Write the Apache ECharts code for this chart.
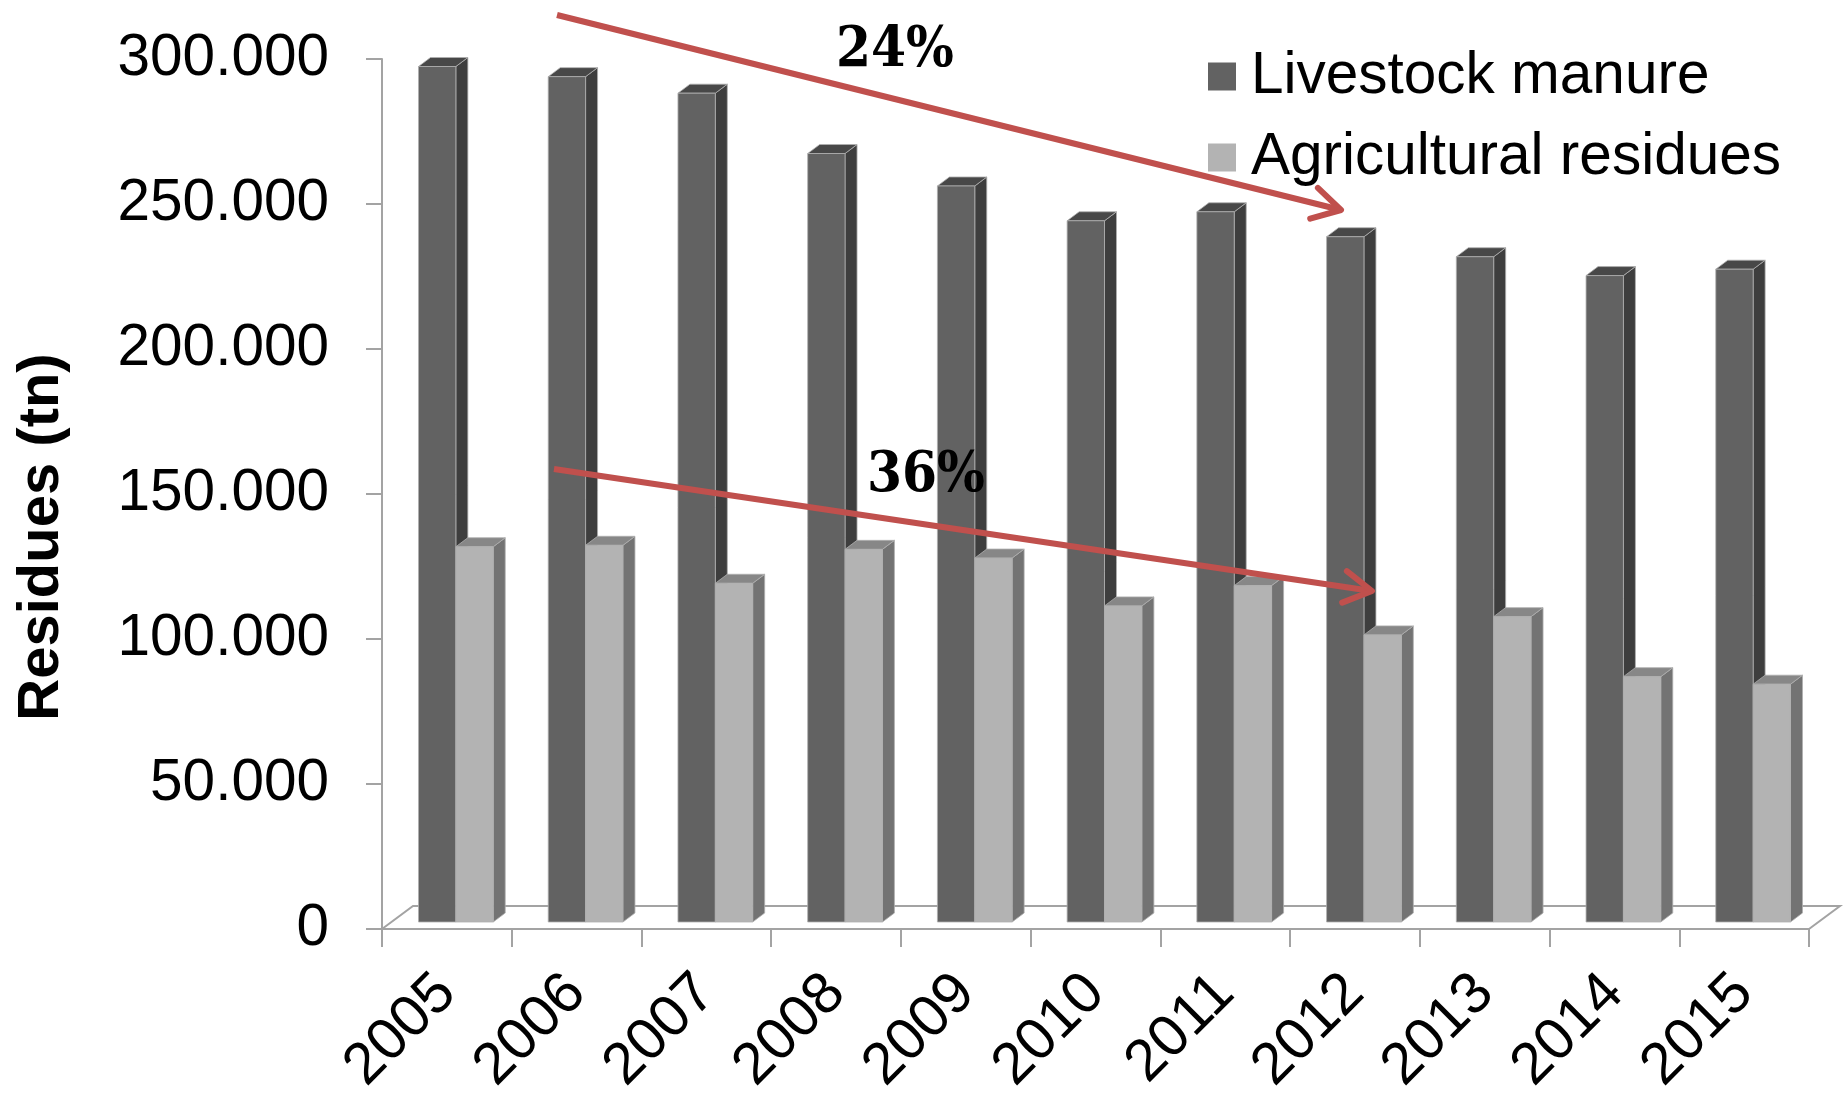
<!DOCTYPE html>
<html>
<head>
<meta charset="utf-8">
<title>Residues 2005-2015</title>
<script src="https://cdn.jsdelivr.net/npm/echarts@6/dist/echarts.min.js"></script>
<style>
  html, body { margin: 0; padding: 0; background: #ffffff; }
  #chart { width: 1848px; height: 1096px; }
</style>
</head>
<body>
<div id="chart"></div>
<script>
// ---- data -------------------------------------------------------------
const years = ['2005', '2006', '2007', '2008', '2009', '2010', '2011', '2012', '2013', '2014', '2015'];
const livestockManure = [295000, 291500, 285800, 265000, 253800, 241800, 244900, 236300, 229400, 222900, 225100];
const agriculturalResidues = [129400, 129900, 116800, 128500, 125500, 109000, 116000, 99000, 105300, 84600, 82000];
const seriesNames = ['Livestock manure', 'Agricultural residues'];
const yTicks = { min: 0, max: 300000, step: 50000 };
const trendLabels = ['24%', '36%'];

// ---- pseudo-3D geometry (pixels) ---------------------------------------
const FLOOR_DX = 31, FLOOR_DY = -23;   // depth of the floor
const FRONT_DX = 9, FRONT_DY = -7;     // front plane of the columns
const BAR_DX = 12, BAR_DY = -9;        // column depth
const BAR_RATIO = 0.288;               // column width as share of a category

const palettes = [
  { front: '#626262', side: '#3e3e3e', top: '#484848' },
  { front: '#b3b3b3', side: '#737373', top: '#878787' }
];
const EDGE = 'rgba(175,175,175,0.8)';
const AXIS_GREY = '#a3a3a3';
const FONT = '"Liberation Sans", Arial, sans-serif';
const TEXT_SIZE = 58.5;

function prism(shift, pal) {
  return function (params, api) {
    const i = api.value(0);
    const v = api.value(1);
    const base = api.coord([i, 0]);
    const top = api.coord([i, v]);
    const w = api.size([1, 0])[0] * BAR_RATIO;
    const x0 = base[0] + FRONT_DX + shift * w;
    const x1 = x0 + w;
    const yb = base[1] + FRONT_DY;
    const yt = top[1] + FRONT_DY;
    const edge = { stroke: EDGE, lineWidth: 1 };
    return {
      type: 'group',
      children: [
        { type: 'polygon',
          shape: { points: [[x1, yb], [x1 + BAR_DX, yb + BAR_DY], [x1 + BAR_DX, yt + BAR_DY], [x1, yt]] },
          style: Object.assign({ fill: pal.side }, edge) },
        { type: 'polygon',
          shape: { points: [[x0, yt], [x0 + BAR_DX, yt + BAR_DY], [x1 + BAR_DX, yt + BAR_DY], [x1, yt]] },
          style: Object.assign({ fill: pal.top }, edge) },
        { type: 'rect',
          shape: { x: x0, y: yt, width: w, height: yb - yt },
          style: Object.assign({ fill: pal.front }, edge) }
      ]
    };
  };
}

function renderFloor(params, api) {
  const band = api.size([1, 0])[0];
  const first = api.coord([0, 0]);
  const last = api.coord([years.length - 1, 0]);
  const L = first[0] - band / 2, R = last[0] + band / 2, Y = first[1];
  return {
    type: 'polyline',
    shape: { points: [[L, Y], [L + FLOOR_DX, Y + FLOOR_DY], [R + FLOOR_DX, Y + FLOOR_DY], [R, Y]] },
    style: { stroke: AXIS_GREY, lineWidth: 2, fill: null }
  };
}

// trend arrows drawn as annotations
const RED = '#c0504d';
function arrow(x1, y1, x2, y2) {
  const a = Math.atan2(y2 - y1, x2 - x1);
  const len = 32, spread = 0.52;
  const wing = s => [x2 - len * Math.cos(a + s), y2 - len * Math.sin(a + s)];
  return [
    { type: 'line', z: 100, shape: { x1: x1, y1: y1, x2: x2 - 2 * Math.cos(a), y2: y2 - 2 * Math.sin(a) },
      style: { stroke: RED, lineWidth: 6 } },
    { type: 'polyline', z: 100, shape: { points: [wing(spread), [x2, y2], wing(-spread)] },
      style: { stroke: RED, lineWidth: 6, lineCap: 'round', lineJoin: 'round', fill: null } }
  ];
}

function thousands(v) {
  return String(v).replace(/\B(?=(\d{3})+(?!\d))/g, '.');
}

const PCT_FONT = 'bold 56px "DejaVu Serif Condensed", "DejaVu Serif", "Liberation Serif", serif';

const chart = echarts.init(document.getElementById('chart'), null, { renderer: 'canvas' });
chart.setOption({
  animation: false,
  backgroundColor: '#ffffff',
  grid: { left: 382, right: 39, top: 59, bottom: 167, containLabel: false, outerBoundsMode: 'none' },
  legend: {
    orient: 'vertical',
    left: 1203, top: 42,
    icon: 'rect',
    itemWidth: 28, itemHeight: 28,
    itemGap: 22,
    data: seriesNames,
    selectedMode: false,
    textStyle: { fontSize: TEXT_SIZE, lineHeight: 58, fontFamily: FONT, color: '#000', padding: [0, 0, 0, 10] }
  },
  xAxis: {
    type: 'category',
    data: years,
    boundaryGap: true,
    axisLine: { show: true, lineStyle: { color: AXIS_GREY, width: 2 } },
    axisTick: { show: true, interval: 0, length: 18, lineStyle: { color: AXIS_GREY, width: 2 } },
    axisLabel: { interval: 0, rotate: 45, margin: 55, fontSize: TEXT_SIZE, fontFamily: FONT, color: '#000' },
    splitLine: { show: false }
  },
  yAxis: {
    type: 'value',
    min: yTicks.min, max: yTicks.max, interval: yTicks.step,
    axisLine: { show: true, lineStyle: { color: AXIS_GREY, width: 2 } },
    axisTick: { show: true, length: 16, lineStyle: { color: AXIS_GREY, width: 2 } },
    axisLabel: { margin: 53, fontSize: TEXT_SIZE, fontFamily: FONT, color: '#000', formatter: thousands },
    splitLine: { show: false }
  },
  series: [
    { name: 'floor', type: 'custom', silent: true, z: 1, data: [[0, 0]], renderItem: renderFloor },
    { name: seriesNames[0], type: 'custom', z: 2, itemStyle: { color: palettes[0].front },
      encode: { x: 0, y: 1 },
      data: years.map((y, i) => [i, livestockManure[i]]), renderItem: prism(-1, palettes[0]) },
    { name: seriesNames[1], type: 'custom', z: 2, itemStyle: { color: palettes[1].front },
      encode: { x: 0, y: 1 },
      data: years.map((y, i) => [i, agriculturalResidues[i]]), renderItem: prism(0, palettes[1]) }
  ],
  graphic: [
    { type: 'text', x: 42, y: 537, rotation: Math.PI / 2,
      style: { text: 'Residues (tn)', x: 0, y: 0, align: 'center', verticalAlign: 'middle',
               font: 'bold 58px ' + FONT, fill: '#000' } },
    ...arrow(557, 15, 1341, 210),
    ...arrow(554, 469, 1372, 591),
    { type: 'text', x: 895, y: 51, z: 101,
      style: { text: trendLabels[0], align: 'center', verticalAlign: 'middle', font: PCT_FONT, fill: '#000' } },
    { type: 'text', x: 926, y: 476, z: 101,
      style: { text: trendLabels[1], align: 'center', verticalAlign: 'middle', font: PCT_FONT, fill: '#000' } }
  ]
});
</script>
</body>
</html>
